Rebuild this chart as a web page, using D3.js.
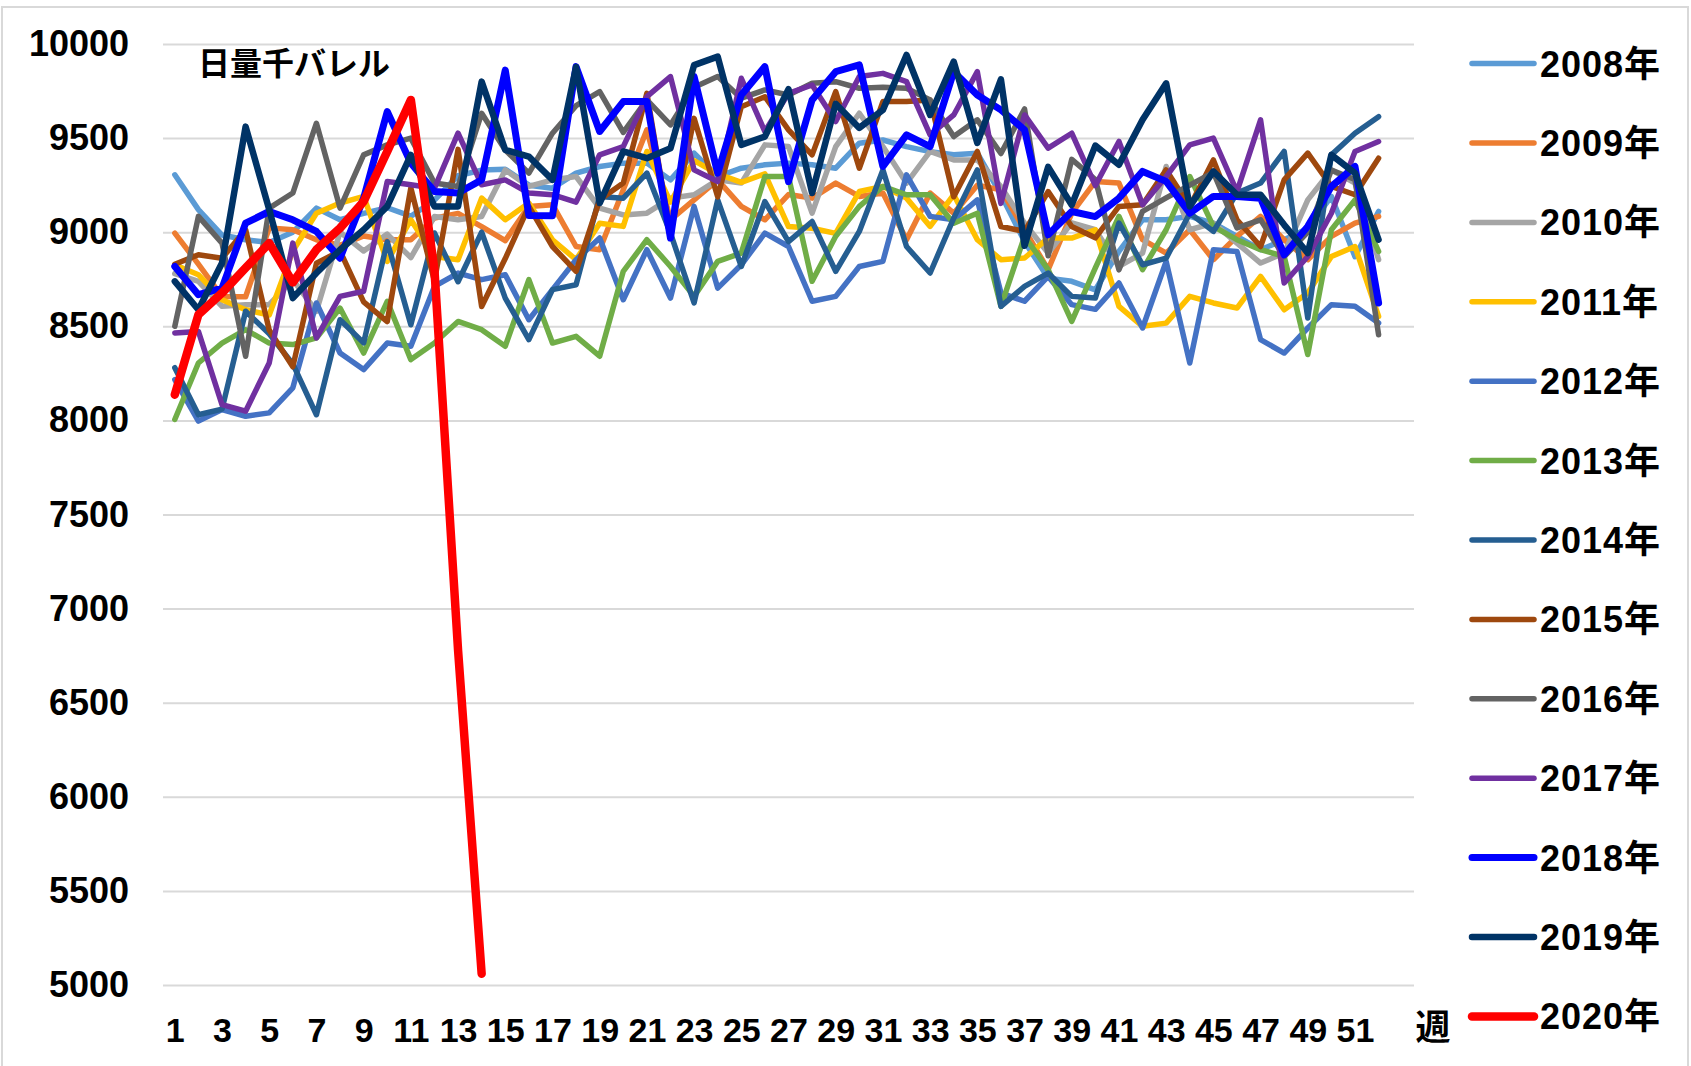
<!DOCTYPE html>
<html>
<head>
<meta charset="utf-8">
<script src="https://cdn.jsdelivr.net/npm/d3@7"></script>
<style>
  body { margin: 0; background: #fff; }
  text { font-family: "Liberation Sans", Arial, "Noto Sans CJK JP", sans-serif; font-weight: bold; fill: #000; }
</style>
</head>
<body>
<div id="chart"></div>
<script>
// weekly values, thousand barrels per day
var years = ['2008', '2009', '2010', '2011', '2012', '2013', '2014', '2015', '2016', '2017', '2018', '2019', '2020'];
var yTicks = [5000, 5500, 6000, 6500, 7000, 7500, 8000, 8500, 9000, 9500, 10000];
var xTicks = [1, 3, 5, 7, 9, 11, 13, 15, 17, 19, 21, 23, 25, 27, 29, 31, 33, 35, 37, 39, 41, 43, 45, 47, 49, 51];

var v2008 = [9305, 9120, 8985, 8960, 8945, 9000, 9128, 9066, 9100, 9130, 9085, 9170, 9300, 9330, 9335, 9250, 9234, 9314, 9349, 9367, 9367, 9278, 9420, 9296, 9340, 9358, 9367, 9358, 9340, 9473, 9490, 9455, 9428, 9411, 9420, 9200, 8950, 8756, 8739, 8694, 8898, 9066, 9066, 9084, 9048, 8978, 8907, 8960, 9020, 9190, 8870, 9110];
var v2009 = [8995, 8830, 8658, 8657, 9023, 9013, 8960, 8930, 8980, 8960, 8960, 9075, 9100, 9030, 8955, 9137, 9146, 8924, 8907, 9225, 9544, 9066, 9172, 9278, 9137, 9066, 9200, 9181, 9261, 9190, 9208, 8960, 9208, 9101, 9250, 9225, 9013, 8801, 9101, 9270, 9261, 8960, 8889, 9013, 8854, 8978, 9084, 8960, 8854, 8978, 9048, 9084];
var v2010 = [8780, 8739, 8606, 8615, 8615, 8748, 8580, 9000, 8900, 8990, 8865, 9083, 9066, 9083, 9331, 9243, 9278, 9296, 9128, 9092, 9101, 9181, 9199, 9278, 9261, 9464, 9455, 9101, 9455, 9632, 9455, 9261, 9429, 9384, 9384, 9243, 9048, 8889, 9050, 9013, 8818, 8889, 9349, 9013, 9048, 8942, 8836, 8889, 9172, 9331, 9261, 8854];
var v2011 = [8827, 8774, 8641, 8588, 8560, 8900, 9101, 9155, 9190, 8845, 9066, 8871, 8854, 9181, 9066, 9155, 8960, 8854, 9048, 9031, 9429, 9160, 9380, 9310, 9265, 9310, 9030, 9021, 8994, 9216, 9243, 9181, 9031, 9199, 8960, 8854, 8863, 8969, 8969, 9013, 8606, 8500, 8517, 8659, 8624, 8597, 8765, 8588, 8677, 8871, 8924, 8553];
var v2012 = [8217, 7996, 8058, 8022, 8040, 8173, 8624, 8358, 8270, 8411, 8394, 8712, 8783, 8748, 8774, 8535, 8695, 8854, 8969, 8641, 8907, 8650, 9137, 8703, 8827, 8995, 8924, 8633, 8659, 8818, 8845, 9305, 9084, 9066, 9172, 8677, 8633, 8765, 8615, 8590, 8730, 8491, 8845, 8305, 8907, 8898, 8429, 8358, 8491, 8615, 8606, 8517];
var v2013 = [8005, 8305, 8411, 8482, 8411, 8403, 8438, 8597, 8358, 8633, 8323, 8411, 8526, 8482, 8394, 8748, 8411, 8447, 8341, 8792, 8960, 8818, 8659, 8845, 8889, 9296, 9296, 8739, 8978, 9137, 9243, 9199, 9199, 9048, 9101, 8606, 8978, 8801, 8526, 8810, 9084, 8801, 9013, 9296, 9031, 8960, 8907, 8871, 8350, 9013, 9172, 8898];
var v2014 = [8280, 8030, 8060, 8580, 8460, 8300, 8030, 8535, 8412, 8949, 8508, 8996, 8737, 9000, 8650, 8429, 8695, 8721, 9190, 9181, 9314, 8995, 8624, 9172, 8818, 9163, 8950, 9057, 8792, 9004, 9331, 8924, 8783, 9075, 9331, 8606, 8712, 8783, 8659, 8650, 9048, 8827, 8862, 9101, 9004, 9208, 9261, 9429, 8544, 9411, 9526, 9614];
var v2015 = [8830, 8880, 8862, 9013, 8480, 8285, 8835, 8900, 8630, 8525, 9235, 8740, 9440, 8605, 8860, 9137, 8924, 8792, 9172, 9261, 9738, 8990, 9605, 9188, 9667, 9720, 9544, 9411, 9747, 9340, 9694, 9694, 9703, 9188, 9429, 9030, 9004, 9216, 9030, 8970, 9137, 9146, 9331, 9137, 9384, 9066, 8924, 9278, 9420, 9243, 9199, 9393];
var v2016 = [8500, 9084, 8942, 8341, 9128, 9208, 9579, 9128, 9411, 9464, 9500, 9261, 9243, 9632, 9437, 9314, 9526, 9672, 9747, 9530, 9703, 9570, 9770, 9827, 9712, 9756, 9729, 9791, 9800, 9765, 9770, 9765, 9703, 9508, 9597, 9418, 9655, 8875, 9387, 9280, 8800, 9111, 9182, 9250, 9317, 9023, 9066, 8870, 9000, 9330, 9280, 8455];
var v2017 = [8465, 8473, 8084, 8049, 8305, 8942, 8438, 8659, 8686, 9269, 9252, 9234, 9526, 9252, 9278, 9208, 9199, 9160, 9411, 9455, 9720, 9827, 9331, 9269, 9818, 9535, 9738, 9782, 9588, 9827, 9844, 9800, 9517, 9623, 9853, 9153, 9623, 9447, 9526, 9248, 9482, 9146, 9296, 9464, 9500, 9216, 9597, 8730, 8871, 9101, 9429, 9482];
var v2018 = [8818, 8668, 8703, 9048, 9110, 9066, 9004, 8862, 9181, 9641, 9367, 9216, 9208, 9278, 9861, 9089, 9087, 9880, 9535, 9694, 9694, 8969, 9827, 9314, 9729, 9880, 9269, 9703, 9853, 9889, 9349, 9517, 9455, 9853, 9729, 9650, 9544, 8986, 9110, 9083, 9181, 9323, 9270, 9101, 9190, 9190, 9181, 8880, 9031, 9243, 9349, 8624];
var v2019 = [8739, 8588, 8836, 9561, 9120, 8650, 8783, 8907, 9013, 9137, 9411, 9137, 9137, 9800, 9437, 9402, 9278, 9878, 9155, 9429, 9393, 9446, 9888, 9933, 9464, 9508, 9760, 9208, 9682, 9554, 9650, 9942, 9623, 9906, 9474, 9812, 8928, 9347, 9145, 9460, 9358, 9597, 9791, 9137, 9323, 9199, 9199, 9039, 8889, 9411, 9314, 8960];
var v2020 = [8137, 8562, 8677, 8810, 8942, 8733, 8907, 9022, 9163, 9429, 9703, 8800, 6780, 5060];

var series = [v2008, v2009, v2010, v2011, v2012, v2013, v2014, v2015, v2016, v2017, v2018, v2019, v2020];
var colors = ['#5B9BD5', '#ED7D31', '#A5A5A5', '#FFC000', '#4472C4', '#70AD47', '#255E91', '#9E480E', '#636363', '#7030A0', '#0000FF', '#003366', '#FF0000'];
var widths = [5.5, 5.5, 5.5, 5.5, 5.5, 5.5, 5.5, 5.5, 5.5, 5.5, 7, 6.5, 8.5];

var width = 1691, height = 1066;
var plotLeft = 163, plotRight = 1414, plotTop = 44, plotBottom = 985;

var svg = d3.select('#chart').append('svg')
    .attr('width', width)
    .attr('height', height);

svg.append('rect')
    .attr('x', 2).attr('y', 7)
    .attr('width', 1686).attr('height', 1080)
    .attr('fill', '#fff')
    .attr('stroke', '#d9d9d9')
    .attr('stroke-width', 2);

var x = d3.scaleLinear().domain([0.5, 53.5]).range([plotLeft, plotRight]);
var y = d3.scaleLinear().domain([5000, 10000]).range([plotBottom, plotTop]);

// y axis + gridlines
var yAxis = svg.append('g')
    .attr('transform', 'translate(' + plotLeft + ',0)')
    .call(d3.axisLeft(y).tickValues(yTicks).tickSize(-(plotRight - plotLeft)).tickPadding(34).tickFormat(d3.format('d')));
yAxis.select('.domain').remove();
yAxis.selectAll('line').attr('stroke', '#d9d9d9').attr('stroke-width', 2);
yAxis.selectAll('text').attr('font-size', 36).attr('fill', '#000');

// x axis
var xAxis = svg.append('g')
    .attr('transform', 'translate(0,' + plotBottom + ')')
    .call(d3.axisBottom(x).tickValues(xTicks).tickSize(0).tickPadding(33).tickFormat(d3.format('d')));
xAxis.select('.domain').remove();
xAxis.selectAll('text').attr('font-size', 34).attr('fill', '#000');

svg.append('text')
    .attr('x', 1433).attr('y', 1040)
    .attr('text-anchor', 'middle')
    .attr('font-size', 35)
    .style('font-family', '"Noto Sans CJK JP", sans-serif')
    .text('週');

svg.append('text')
    .attr('x', 198).attr('y', 75)
    .attr('font-size', 32)
    .style('font-family', '"Noto Sans CJK JP", sans-serif')
    .text('日量千バレル');

var line = d3.line()
    .x(function(d, i) { return x(i + 1); })
    .y(function(d) { return y(d); });

svg.append('g').selectAll('path')
    .data(series)
    .enter()
    .append('path')
    .attr('d', line)
    .attr('fill', 'none')
    .attr('stroke', function(d, i) { return colors[i]; })
    .attr('stroke-width', function(d, i) { return widths[i]; })
    .attr('stroke-linejoin', 'round')
    .attr('stroke-linecap', 'round');

// legend
var legend = svg.append('g').selectAll('g')
    .data(years)
    .enter()
    .append('g')
    .attr('transform', function(d, i) { return 'translate(0,' + (63.6 + i * 79.4) + ')'; });
legend.append('line')
    .attr('x1', 1472).attr('x2', 1534)
    .attr('stroke', function(d, i) { return colors[i]; })
    .attr('stroke-width', function(d, i) { return widths[i]; })
    .attr('stroke-linecap', 'round');
legend.append('text')
    .attr('x', 1540)
    .attr('dy', '0.36em')
    .attr('font-size', 36)
    .attr('letter-spacing', 1)
    .text(function(d) { return d + '年'; });
</script>
</body>
</html>
